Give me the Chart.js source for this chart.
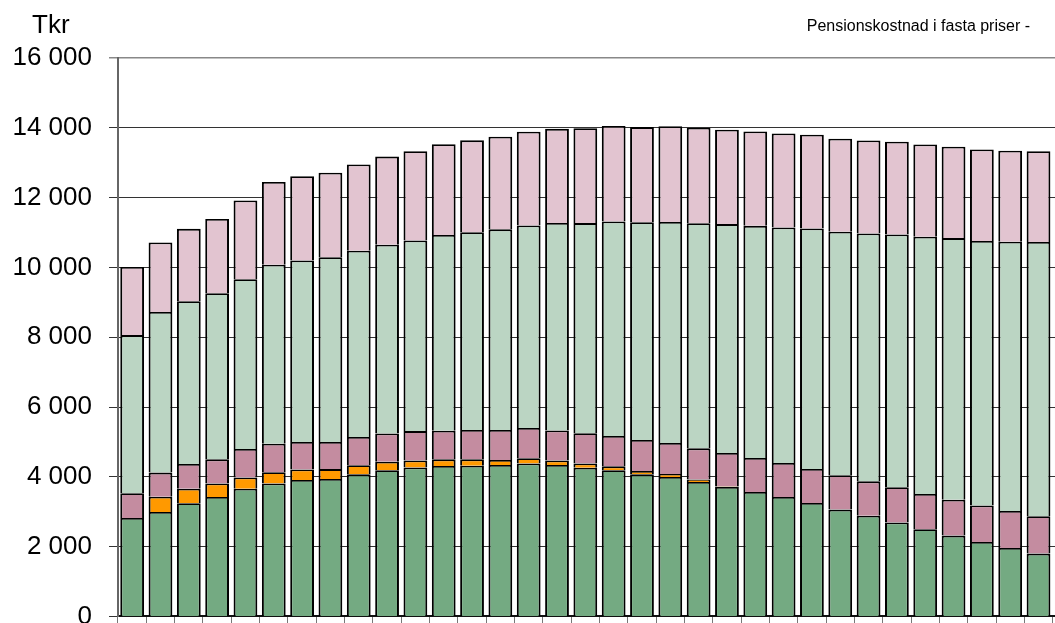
<!DOCTYPE html>
<html>
<head>
<meta charset="utf-8">
<script src="https://cdn.jsdelivr.net/npm/chart.js@4/dist/chart.umd.min.js"></script>
<style>
  html, body { margin: 0; padding: 0; background: #fff; overflow: hidden; }
  #wrap { position: relative; width: 1055px; height: 623px; overflow: hidden; }
  #chart { position: absolute; left: 0; top: 0; }
  .lbl { position: absolute; font-family: "Liberation Sans", Arial, sans-serif; color: #000; white-space: nowrap; }
  #unit { left: 32px; top: 11px; font-size: 26px; line-height: 26px; }
  #title { right: 25px; top: 18px; font-size: 16px; line-height: 16px; }
</style>
</head>
<body>
<div id="wrap">
  <canvas id="chart" width="1081" height="649"></canvas>
  <div id="unit" class="lbl">Tkr</div>
  <div id="title" class="lbl">Pensionskostnad i fasta priser -</div>
</div>
<script>
// kategorier (etiketterna syns inte i bilden)
const categories = ['1', '2', '3', '4', '5', '6', '7', '8', '9', '10', '11', '12', '13', '14', '15', '16', '17',
    '18', '19', '20', '21', '22', '23', '24', '25', '26', '27', '28', '29', '30', '31', '32', '33', '34'];

// serier nerifrån och upp, Tkr
const darkGreenValues = [2820, 2990, 3240, 3420, 3660, 3810, 3910, 3940, 4070, 4190, 4270, 4310, 4320, 4340, 4380, 4340, 4260,
    4190, 4070, 3995, 3850, 3710, 3565, 3420, 3250, 3060, 2885, 2690, 2495, 2315, 2130, 1960, 1800, 1650];
const orangeValues = [0, 440, 420, 390, 320, 320, 300, 280, 260, 240, 200, 190, 180, 140, 150, 130, 120,
    110, 95, 85, 75, 15, 0, 0, 0, 0, 0, 0, 0, 0, 0, 0, 0, 0];
const mauveValues = [710, 690, 705, 690, 820, 820, 790, 780, 810, 810, 840, 820, 840, 860, 870, 860, 870,
    870, 890, 890, 890, 960, 975, 975, 975, 985, 985, 1010, 1015, 1030, 1050, 1060, 1070, 1080];
const lightGreenValues = [4530, 4605, 4665, 4760, 4860, 5125, 5200, 5290, 5335, 5410, 5460, 5610, 5670, 5750, 5800, 5945, 6020,
    6145, 6240, 6330, 6450, 6555, 6650, 6750, 6890, 6975, 7100, 7245, 7370, 7495, 7580, 7715, 7860, 8000];
const pinkValues = [1950, 1990, 2075, 2130, 2255, 2370, 2415, 2425, 2475, 2525, 2560, 2600, 2630, 2655, 2685, 2695, 2715,
    2735, 2725, 2745, 2735, 2705, 2705, 2695, 2685, 2665, 2665, 2655, 2645, 2620, 2620, 2610, 2600, 2600];

const yTicks = [0, 2000, 4000, 6000, 8000, 10000, 12000, 14000, 16000];

const FONT = '"Liberation Sans", Arial, sans-serif';

function makeSet(label, data, color) {
    return {
        label: label,
        data: data,
        backgroundColor: color,
        borderColor: '#000',
        borderWidth: { top: 1.8, left: 2, right: 2, bottom: 0 },
        borderSkipped: false,
        barPercentage: 0.84,
        categoryPercentage: 1.0,
        stack: 'a'
    };
}

const ctx = document.getElementById('chart').getContext('2d');
const chart = new Chart(ctx, {
    type: 'bar',
    data: {
        labels: categories,
        datasets: [
            makeSet('s1', darkGreenValues, '#74AA82'),
            makeSet('s2', orangeValues, '#FF9900'),
            makeSet('s3', mauveValues, '#C48CA0'),
            makeSet('s4', lightGreenValues, '#BBD5C3'),
            makeSet('s5', pinkValues, '#E2C4D0')
        ]
    },
    options: {
        responsive: false,
        animation: false,
        layout: { padding: { top: 58, left: 0, right: 0, bottom: 0 } },
        plugins: {
            legend: { display: false },
            tooltip: { enabled: false }
        },
        scales: {
            x: {
                stacked: true,
                offset: true,
                grid: {
                    offset: true,
                    drawOnChartArea: false,
                    drawTicks: true,
                    tickLength: 8,
                    color: '#777'
                },
                border: { color: '#111', width: 2 },
                ticks: { display: false }
            },
            y: {
                stacked: true,
                min: 0,
                max: 16000,
                afterBuildTicks: (scale) => {
                    scale.ticks = yTicks.map(v => ({ value: v }));
                },
                afterFit: (scale) => {
                    scale.width = 118;
                },
                grid: {
                    color: (c) => c.tick && c.tick.value === 16000 ? '#888' : '#333',
                    lineWidth: (c) => c.tick && c.tick.value === 16000 ? 1.5 : 1,
                    tickLength: 9
                },
                border: { color: '#666', width: 2 },
                ticks: {
                    color: '#000',
                    padding: 17,
                    font: { family: FONT, size: 26 },
                    callback: (v) => String(v).replace(/\B(?=(\d{3})+(?!\d))/g, ' ')
                }
            }
        }
    }
});
</script>
</body>
</html>
